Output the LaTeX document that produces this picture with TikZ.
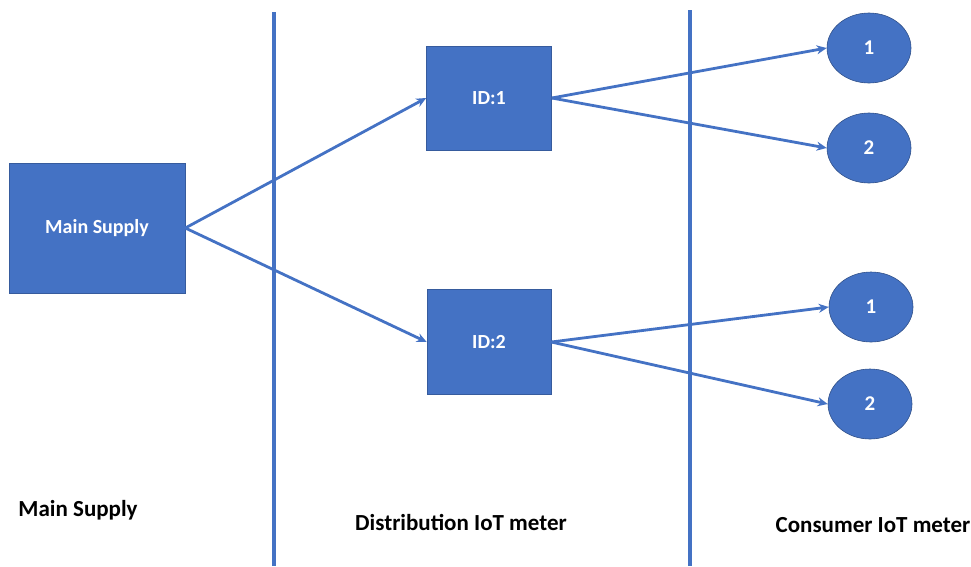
\documentclass[tikz,border=0pt]{standalone}
\usepackage{fontspec}
\setmainfont{Carlito}
\usetikzlibrary{arrows.meta,shapes.geometric}
\definecolor{iotblue}{HTML}{4472C4}
\begin{document}
\begin{tikzpicture}[x=1pt,y=-1pt,
  box/.style={draw=iotblue!80!black,line width=0.6pt,fill=iotblue,text=white,font=\bfseries\fontsize{20}{24}\selectfont,inner sep=0pt},
  meter/.style={ellipse,draw=iotblue!70!black,line width=0.6pt,fill=iotblue,text=white,font=\bfseries\fontsize{21}{24}\selectfont,minimum width=84pt,minimum height=70pt,inner sep=0pt},
  feed/.style={draw=iotblue,line width=2.8pt,-{Stealth[length=10pt,width=9pt]}},
  divider/.style={draw=iotblue,line width=3.4pt},
  caption/.style={font=\bfseries\fontsize{23}{27}\selectfont}]
\useasboundingbox (0,0) rectangle (971,566);
% boxes
\node[box,minimum width=176pt,minimum height=130pt] (main) at (97,228) {Main Supply};
\node[box,minimum width=125pt,minimum height=104pt] (id1) at (489,98) {ID:1};
\node[box,minimum width=124pt,minimum height=105pt] (id2) at (489,342) {ID:2};
% consumer meters
\node[meter] (c11) at (869,48) {1};
\node[meter] (c12) at (869,148) {2};
\node[meter] (c21) at (871,307) {1};
\node[meter] (c22) at (870,404) {2};
% dividers
\coordinate (d1top) at (274,12);
\coordinate (d1bot) at (274,566);
\coordinate (d2top) at (690,10);
\coordinate (d2bot) at (690,566);
\draw[divider] (d1top) -- (d1bot);
\draw[divider] (d2top) -- (d2bot);
% connections
\draw[feed] (main.east) -- (id1.west);
\draw[feed] (main.east) -- (id2.west);
\draw[feed] (id1.east) -- (c11.west);
\draw[feed] (id1.east) -- (c12.west);
\draw[feed] (id2.east) -- (c21.west);
\draw[feed] (id2.east) -- (c22.west);
% captions
\node[caption] (capmain) at (78,510) {Main Supply};
\node[caption] (capdist) at (461,522) {Distribution IoT meter};
\node[caption] (capcons) at (873,525) {Consumer IoT meter};
\end{tikzpicture}
\end{document}
